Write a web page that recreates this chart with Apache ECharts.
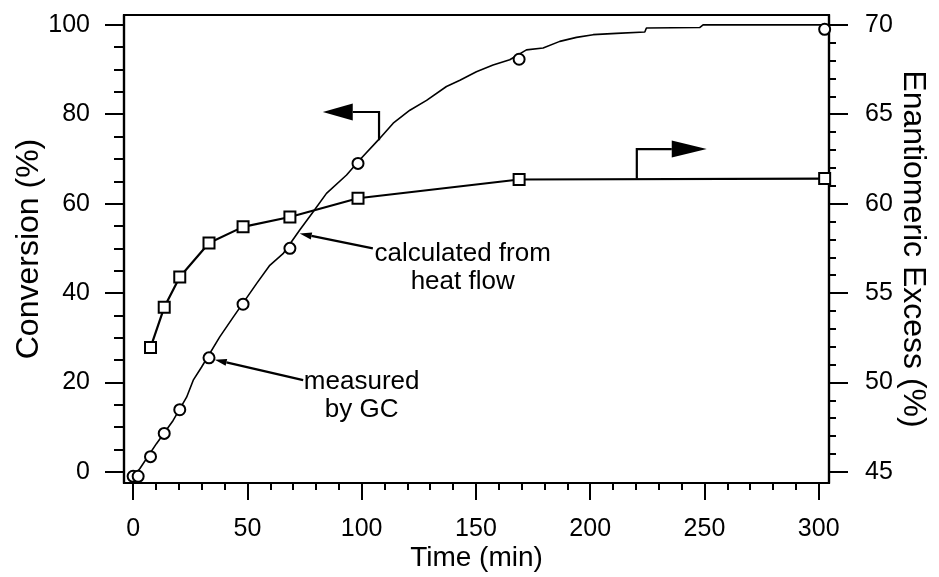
<!DOCTYPE html>
<html><head><meta charset="utf-8">
<script src="https://cdn.jsdelivr.net/npm/echarts@6/dist/echarts.min.js"></script>
<style>html,body{margin:0;padding:0;background:#fff}#c{width:939px;height:577px}</style>
</head><body><div id="c"></div>
<script>
// Conversion calculated from heat flow
const heatTime = [0, 2.9, 10.2, 17.5, 23.4, 26.3, 29.9, 37.9, 43.8, 54.0, 59.8, 65.6, 72.9, 78.8, 84.6, 93.4, 99.2, 107.2, 113.8, 121.1, 128.4, 137.1, 143.0, 150.2, 157.5, 164.8, 172.1, 179.4, 186.7, 194.0, 201.3, 211.5, 223.9, 224.6, 247.9, 249.4, 265.6, 302.6];
const heatConv = [-1.0, 0.7, 6.3, 11.5, 16.7, 20.5, 23.4, 30.2, 34.6, 42.1, 46.2, 48.8, 54.1, 58.2, 62.3, 66.4, 69.8, 74.2, 78.0, 80.9, 83.1, 86.2, 87.6, 89.5, 91.0, 92.2, 94.4, 94.8, 96.3, 97.2, 97.8, 98.1, 98.4, 99.3, 99.4, 100.0, 100.0, 100.0];
// Conversion measured by GC
const gcTime = [0, 2.2, 7.6, 13.6, 20.4, 33.2, 48.1, 68.6, 98.4, 168.9, 302.6];
const gcConv = [-1.0, -1.0, 3.4, 8.6, 13.9, 25.5, 37.5, 50.0, 69.0, 92.3, 99.0];
// Enantiomeric excess
const eeTime = [7.6, 13.6, 20.4, 33.2, 48.1, 68.6, 98.4, 168.9, 302.6];
const eeValue = [51.95, 54.2, 55.9, 57.8, 58.7, 59.25, 60.3, 61.35, 61.4];
// Tick labels
const timeTicks = [0, 50, 100, 150, 200, 250, 300];
const convTicks = [0, 20, 40, 60, 80, 100];
const eeTicks = [45, 50, 55, 60, 65, 70];

const timeMinor = [], convMinor = [], eeMinor = [];
for (let v = 10; v < 300; v += 10) if (v % 50) timeMinor.push(v);
for (let v = 5; v < 100; v += 5) if (v % 20) convMinor.push(v);
for (let v = 46; v < 70; v += 1) if (v % 5) eeMinor.push(v);

const FONT = 'Liberation Sans, Arial, Helvetica, sans-serif';
const X_MIN = -4, X_MAX = 304.5, C_MIN = -2.5, C_MAX = 102.2;
const E_MIN = 45 + C_MIN / 4, E_MAX = 45 + C_MAX / 4;

const chart = echarts.init(document.getElementById('c'), null, {renderer: 'canvas'});
const axisLine = {show: true, onZero: false, lineStyle: {color: '#000', width: 2.2}};
const lab = {color: '#000', fontSize: 25, fontFamily: FONT};
const nameStyle = {color: '#000', fontSize: 32, fontFamily: FONT};

function hiddenMinor(base, vals, len) {
  return Object.assign({}, base, {
    name: '', axisLine: {show: false, onZero: false}, splitLine: {show: false},
    axisLabel: {show: false},
    axisTick: {show: true, inside: false, length: len, customValues: vals, lineStyle: {color: '#000', width: 2}}
  });
}

const xBase = {type: 'value', min: X_MIN, max: X_MAX, position: 'bottom', gridIndex: 0};
const yLBase = {type: 'value', min: C_MIN, max: C_MAX, position: 'left', gridIndex: 0};
const yRBase = {type: 'value', min: E_MIN, max: E_MAX, position: 'right', gridIndex: 0};

chart.setOption({
  animation: false,
  backgroundColor: '#fff',
  grid: {left: 124, right: 110, top: 15, bottom: 94, show: true, borderColor: '#000', borderWidth: 2.2, containLabel: false, outerBoundsMode: 'none'},
  xAxis: [
    Object.assign({}, xBase, {
      name: 'Time (min)', nameLocation: 'middle', nameGap: 61, nameMoveOverlap: false, nameTextStyle: Object.assign({}, nameStyle, {fontSize: 28}),
      axisLine: axisLine, splitLine: {show: false},
      axisTick: {show: true, length: 17, customValues: timeTicks, lineStyle: {color: '#000', width: 2}},
      axisLabel: Object.assign({}, lab, {margin: 34, customValues: timeTicks})
    }),
    hiddenMinor(xBase, timeMinor, 7)
  ],
  yAxis: [
    Object.assign({}, yLBase, {
      name: 'Conversion (%)', nameLocation: 'middle', nameGap: 79, nameMoveOverlap: false, nameTextStyle: nameStyle,
      axisLine: axisLine, splitLine: {show: false},
      axisTick: {show: true, length: 19, customValues: convTicks, lineStyle: {color: '#000', width: 2}},
      axisLabel: Object.assign({}, lab, {margin: 34, customValues: convTicks})
    }),
    Object.assign({}, yRBase, {
      name: 'Enantiomeric Excess (%)', nameLocation: 'middle', nameGap: 68, nameMoveOverlap: false, nameRotate: -90, nameTextStyle: nameStyle,
      axisLine: axisLine, splitLine: {show: false},
      axisTick: {show: true, length: 19, customValues: eeTicks, lineStyle: {color: '#000', width: 2}},
      axisLabel: Object.assign({}, lab, {margin: 36, customValues: eeTicks})
    }),
    hiddenMinor(yLBase, convMinor, 10),
    hiddenMinor(yRBase, eeMinor, 7)
  ],
  series: [
    {
      type: 'line', name: 'heat flow', xAxisIndex: 0, yAxisIndex: 0,
      data: heatTime.map((t, i) => [t, heatConv[i]]),
      showSymbol: false, symbol: 'none', smooth: false,
      lineStyle: {color: '#000', width: 1.6}, z: 2
    },
    {
      type: 'scatter', name: 'GC', xAxisIndex: 0, yAxisIndex: 0,
      data: gcTime.map((t, i) => [t, gcConv[i]]),
      symbol: 'circle', symbolSize: 11,
      itemStyle: {color: '#fff', opacity: 1, borderColor: '#000', borderWidth: 2}, z: 4
    },
    {
      type: 'line', name: 'ee', xAxisIndex: 0, yAxisIndex: 1,
      data: eeTime.map((t, i) => [t, eeValue[i]]),
      symbol: 'rect', symbolSize: 11, showAllSymbol: true,
      lineStyle: {color: '#000', width: 2.2},
      itemStyle: {color: '#fff', opacity: 1, borderColor: '#000', borderWidth: 2}, z: 5
    }
  ]
});

function P(t, v, yi) { return chart.convertToPixel({xAxisIndex: 0, yAxisIndex: yi || 0}, [t, v]); }
function pointer(tail, tip, len, hw) {
  const dx = tip[0] - tail[0], dy = tip[1] - tail[1];
  const L = Math.sqrt(dx * dx + dy * dy), ux = dx / L, uy = dy / L;
  const bx = tip[0] - ux * len, by = tip[1] - uy * len;
  return [
    {type: 'polyline', shape: {points: [tail, [bx, by]]}, style: {stroke: '#000', lineWidth: 2.2, fill: null}, z: 10},
    {type: 'polygon', shape: {points: [tip, [bx - uy * hw, by + ux * hw], [bx + uy * hw, by - ux * hw]]}, style: {fill: '#000'}, z: 10}
  ];
}
function elbow(a, b, c, tip, hw) {
  return [
    {type: 'polyline', shape: {points: [a, b, c]}, style: {stroke: '#000', lineWidth: 2.2, fill: null}, z: 10},
    {type: 'polygon', shape: {points: [[c[0], c[1] - hw], tip, [c[0], c[1] + hw]]}, style: {fill: '#000'}, z: 10}
  ];
}
function text(str, pos) {
  return {type: 'text', x: pos[0], y: pos[1], z: 10,
    style: {text: str, fill: '#000', font: '26px ' + FONT, align: 'center', verticalAlign: 'middle', lineHeight: 28}};
}

const g = [];
// arrow pointing to conversion axis
g.push(...elbow(P(107.6, 74.2), P(107.6, 80.5), P(96.1, 80.5), P(83.0, 80.5), 8.5));
// arrow pointing to ee axis
g.push(...elbow(P(220.4, 61.4, 1), P(220.4, 63.05, 1), P(235.7, 63.05, 1), P(251.0, 63.05, 1), 8.5));
// labels with pointers
g.push(...pointer(P(104.9, 50.0), P(72.9, 53.3), 12, 3.5));
g.push(text('calculated from\nheat flow', P(144.2, 45.6)));
g.push(...pointer(P(74.4, 20.5), P(35.7, 25.1), 12, 3.5));
g.push(text('measured\nby GC', P(100, 16.9)));
chart.setOption({graphic: g});
</script></body></html>
